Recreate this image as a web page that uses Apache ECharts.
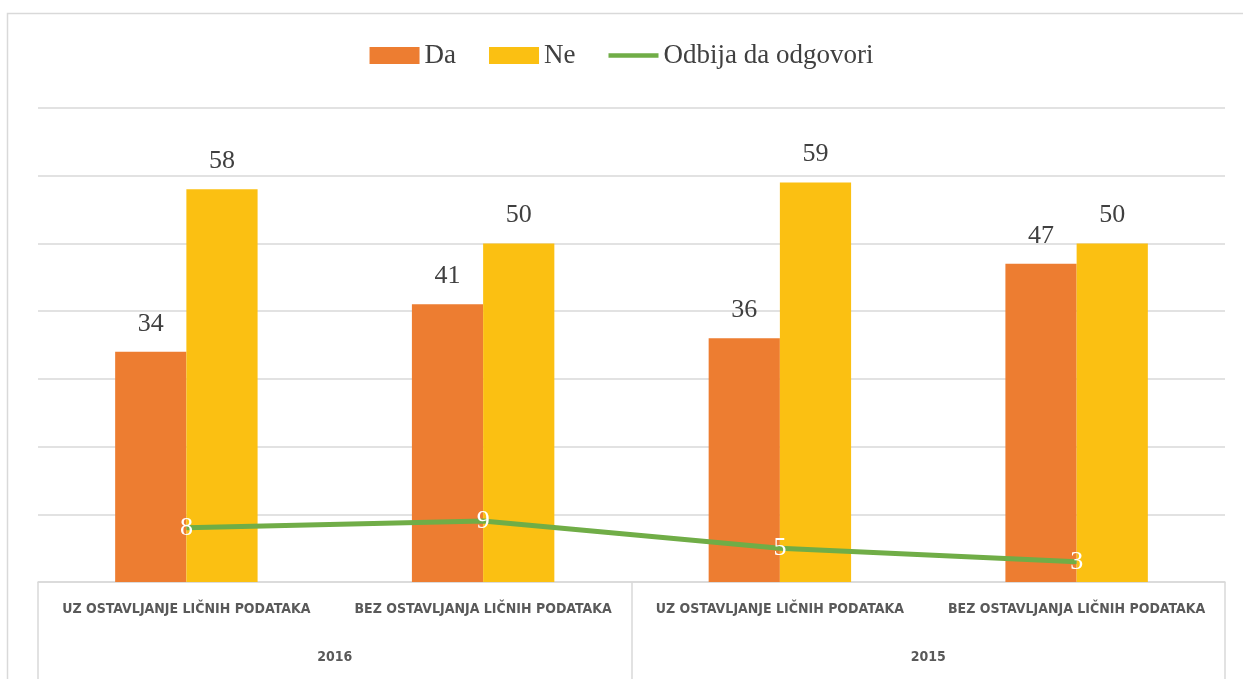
<!DOCTYPE html>
<html>
<head>
<meta charset="utf-8">
<script src="https://cdn.jsdelivr.net/npm/echarts@6/dist/echarts.min.js"></script>
<style>
  html, body { margin: 0; padding: 0; background: #fff; }
  #chart { width: 1243px; height: 679px; }
</style>
</head>
<body>
<div id="chart"></div>
<script>
// podaci sa grafika
const categories = ['UZ OSTAVLJANJE LIČNIH PODATAKA', 'BEZ OSTAVLJANJA LIČNIH PODATAKA',
    'UZ OSTAVLJANJE LIČNIH PODATAKA', 'BEZ OSTAVLJANJA LIČNIH PODATAKA'];
const years = ['2016', '2015'];
const daValues = [34, 41, 36, 47];
const neValues = [58, 50, 59, 50];
const odbijaValues = [8, 9, 5, 3];

const serif = '"Liberation Serif", "DejaVu Serif", serif';
const narrow = '"Liberation Sans Narrow", "DejaVu Sans Condensed", sans-serif';
const gridColor = '#d9d9d9';
const green = '#70AD47';

const barLabel = {
    show: true,
    position: 'top',
    distance: 15,
    fontFamily: serif,
    fontSize: 26,
    color: '#404040'
};

const axisText = {
    interval: 0,
    fontFamily: narrow,
    fontWeight: 'bold',
    fontSize: 14,
    color: '#595959'
};

const option = {
    animation: false,
    graphic: [
        {
            // okvir grafika
            type: 'rect',
            shape: { x: 7.5, y: 13.5, width: 1260, height: 700 },
            style: { fill: 'none', stroke: gridColor, lineWidth: 1.5 },
            silent: true
        }
    ],
    legend: {
        top: 37,
        left: 'center',
        itemWidth: 50,
        itemHeight: 17,
        itemGap: 33,
        textStyle: {
            fontFamily: serif,
            fontSize: 27,
            color: '#404040'
        },
        data: [
            { name: 'Da', icon: 'rect' },
            { name: 'Ne', icon: 'rect' },
            {
                name: 'Odbija da odgovori',
                icon: 'path://M0,0 L55,0 L55,5 L0,5 Z',
                itemStyle: { color: green, opacity: 1 }
            }
        ]
    },
    grid: {
        left: 38,
        right: 18,
        top: 108,
        bottom: 97
    },
    xAxis: [
        {
            type: 'category',
            data: categories,
            axisLine: { lineStyle: { color: gridColor, width: 1.5 } },
            axisTick: { show: false },
            axisLabel: Object.assign({ margin: 20 }, axisText)
        },
        {
            type: 'category',
            position: 'bottom',
            data: years,
            axisLine: { show: false },
            axisTick: {
                show: true,
                length: 100,
                lineStyle: { color: gridColor, width: 1.5 }
            },
            axisLabel: Object.assign({ margin: 68 }, axisText)
        }
    ],
    yAxis: [
        {
            type: 'value',
            min: 0,
            max: 70,
            interval: 10,
            axisLine: { show: false },
            axisTick: { show: false },
            axisLabel: { show: false },
            splitLine: { lineStyle: { color: gridColor, width: 1.5 } }
        }
    ],
    series: [
        {
            name: 'Da',
            type: 'bar',
            data: daValues,
            barGap: '0%',
            barCategoryGap: '52%',
            itemStyle: { color: '#ED7D31' },
            label: barLabel
        },
        {
            name: 'Ne',
            type: 'bar',
            data: neValues,
            itemStyle: { color: '#FBC012' },
            label: barLabel
        },
        {
            name: 'Odbija da odgovori',
            type: 'line',
            data: odbijaValues,
            symbol: 'circle',
            symbolSize: 2,
            showSymbol: true,
            lineStyle: { color: green, width: 5 },
            itemStyle: { color: 'rgba(0,0,0,0)', borderWidth: 0 },
            label: {
                show: true,
                position: 'inside',
                fontFamily: serif,
                fontSize: 26,
                color: '#ffffff'
            },
            z: 5
        }
    ]
};

const chart = echarts.init(document.getElementById('chart'));
chart.setOption(option);
</script>
</body>
</html>
